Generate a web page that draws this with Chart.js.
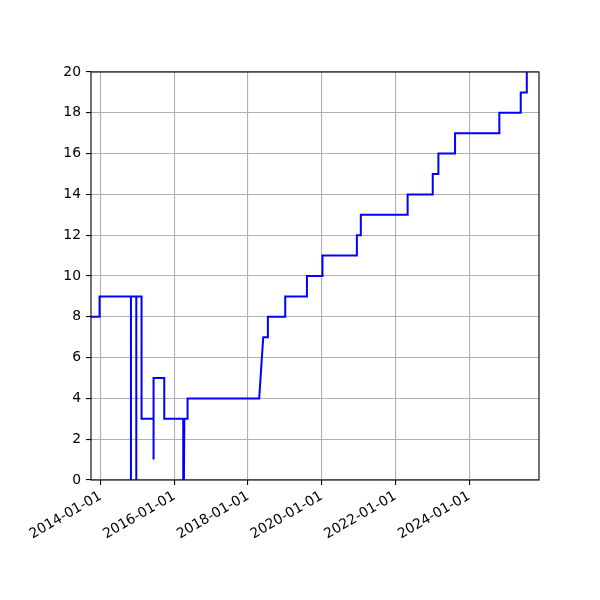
<!DOCTYPE html>
<html>
<head>
<meta charset="utf-8">
<script src="https://cdn.jsdelivr.net/npm/chart.js@4/dist/chart.umd.min.js"></script>
<style>
  html, body { margin: 0; padding: 0; background: #fff; }
  #chart { display: block; }
</style>
</head>
<body>
<canvas id="chart" width="600" height="600"></canvas>
<script>
// step series (dates repeat where the line jumps)
const dates = [
  "2013-09-28", "2013-12-22", "2013-12-22",
  "2014-10-29", "2014-10-29", "2014-10-29",
  "2014-12-21", "2014-12-21", "2014-12-21",
  "2015-02-11", "2015-02-11",
  "2015-06-10", "2015-06-10", "2015-06-10",
  "2015-09-24", "2015-09-24",
  "2016-03-30", "2016-03-30", "2016-04-10",
  "2016-05-12", "2016-05-12",
  "2018-04-22", "2018-06-01",
  "2018-07-17", "2018-07-17",
  "2019-01-05", "2019-01-05",
  "2019-08-08", "2019-08-08",
  "2020-01-09", "2020-01-09",
  "2020-12-15", "2020-12-15",
  "2021-01-23", "2021-01-23",
  "2022-05-02", "2022-05-02",
  "2023-01-06", "2023-01-06",
  "2023-03-03", "2023-03-03",
  "2023-08-15", "2023-08-15",
  "2024-10-27", "2024-10-27",
  "2025-05-27", "2025-05-27",
  "2025-07-26", "2025-07-26"
];
const values = [
  8, 8, 9,
  9, -5, 9,
  9, -5, 9,
  9, 3,
  3, 1, 5,
  5, 3,
  3, -5, 3,
  3, 4,
  4, 7,
  7, 8,
  8, 9,
  9, 10,
  10, 11,
  11, 12,
  12, 13,
  13, 14,
  14, 15,
  15, 16,
  16, 17,
  17, 18,
  18, 19,
  19, 21
];
const tickDates = ["2014-01-01", "2016-01-01", "2018-01-01", "2020-01-01", "2022-01-01", "2024-01-01"];
const xRange = ["2013-09-28", "2025-11-24"];
const yTicks = [0, 2, 4, 6, 8, 10, 12, 14, 16, 18, 20];

const points = dates.map((d, i) => ({ x: Date.parse(d), y: values[i] }));
const fmt = v => new Date(v).toISOString().slice(0, 10);
const font = { family: "'DejaVu Sans', sans-serif", size: 13.9 };

// matplotlib draws a box round the axes
const frame = {
  id: "frame",
  afterDatasetsDraw(chart) {
    const { ctx, chartArea: a } = chart;
    ctx.save();
    ctx.strokeStyle = "#000";
    ctx.lineWidth = 1.1;
    ctx.strokeRect(a.left, a.top, a.right - a.left, a.bottom - a.top);
    ctx.restore();
  }
};

new Chart(document.getElementById("chart"), {
  type: "line",
  data: {
    datasets: [{
      data: points,
      borderColor: "#0000ff",
      borderWidth: 2,
      pointRadius: 0,
      tension: 0,
      fill: false,
      clip: 0
    }]
  },
  options: {
    responsive: false,
    animation: false,
    devicePixelRatio: 1,
    layout: { padding: { left: 0, top: 72, right: 61, bottom: 0 } },
    plugins: { legend: { display: false }, tooltip: { enabled: false } },
    scales: {
      x: {
        type: "linear",
        min: Date.parse(xRange[0]),
        max: Date.parse(xRange[1]),
        afterBuildTicks: s => { s.ticks = tickDates.map(d => ({ value: Date.parse(d) })); },
        afterFit: s => { s.height = 120; },
        grid: { color: "#b0b0b0", lineWidth: 1.1, tickColor: "#000", tickLength: 5, drawTicks: true },
        border: { display: false },
        ticks: {
          callback: v => fmt(v),
          maxRotation: 30,
          minRotation: 30,
          autoSkip: false,
          color: "#000",
          padding: 3,
          font: font
        }
      },
      y: {
        min: 0,
        max: 20,
        afterBuildTicks: s => { s.ticks = yTicks.map(v => ({ value: v })); },
        afterFit: s => { s.width = 91; },
        grid: { color: "#b0b0b0", lineWidth: 1.1, tickColor: "#000", tickLength: 5 },
        border: { display: false },
        ticks: { color: "#000", padding: 5, font: font }
      }
    }
  },
  plugins: [frame]
});
</script>
</body>
</html>
